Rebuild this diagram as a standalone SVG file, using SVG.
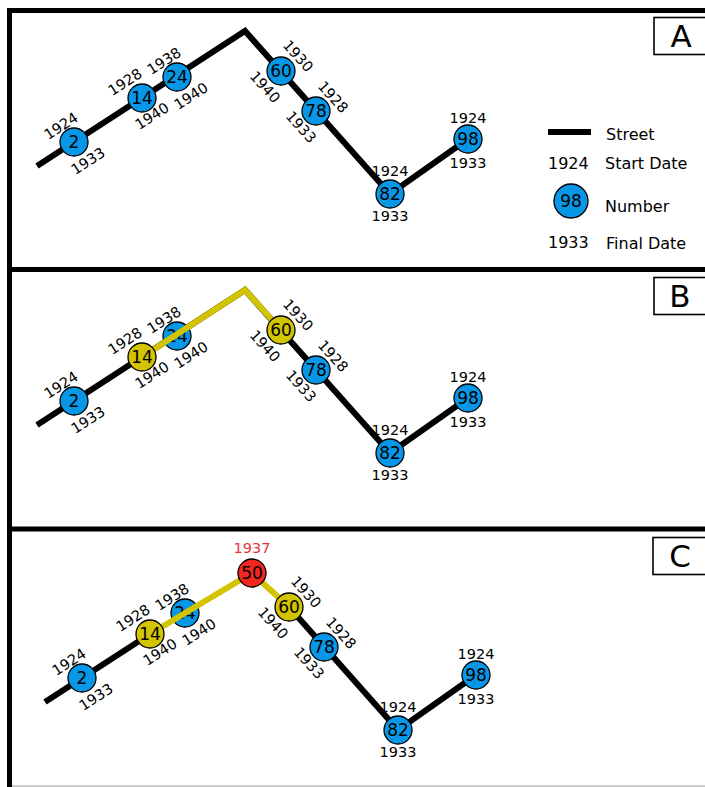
<svg xmlns="http://www.w3.org/2000/svg" width="705" height="787" viewBox="0 0 705 787">
  <style>
    text { font-family: "DejaVu Sans", "Liberation Sans", sans-serif; fill: #000; }
    .street { fill: none; stroke: #000; stroke-width: 6; stroke-linejoin: miter; }
    .changed { fill: none; stroke: #d2c400; stroke-width: 6; stroke-linejoin: miter; }
    .node circle { stroke: #000; stroke-width: 1.3; }
    .blue { fill: #0797e6; }
    .yellow { fill: #d2c400; }
    .red { fill: #f2271f; }
    .num { font-size: 17px; text-anchor: middle; }
    .date { font-size: 14.5px; text-anchor: middle; }
    .leg { font-size: 16px; }
    .tag { fill: #fff; stroke: #000; stroke-width: 1.6; }
    .tagtxt { font-size: 31px; text-anchor: middle; }
    .frame { stroke: #000; stroke-width: 5; }
  </style>
  <defs>
    <!-- date labels shared by the three panels (coordinates of the top panel) -->
    <g id="dates">
      <text class="date" transform="translate(61,126) rotate(-33)" y="5">1924</text>
      <text class="date" transform="translate(88,161) rotate(-33)" y="5">1933</text>
      <text class="date" transform="translate(125,82) rotate(-33)" y="5">1928</text>
      <text class="date" transform="translate(152,116) rotate(-33)" y="5">1940</text>
      <text class="date" transform="translate(164,61) rotate(-33)" y="5">1938</text>
      <text class="date" transform="translate(191,96) rotate(-33)" y="5">1940</text>
      <text class="date" transform="translate(298,56) rotate(48)" y="5">1930</text>
      <text class="date" transform="translate(265,87) rotate(48)" y="5">1940</text>
      <text class="date" transform="translate(333,97) rotate(48)" y="5">1928</text>
      <text class="date" transform="translate(301,127) rotate(48)" y="5">1933</text>
      <text class="date" x="390" y="176">1924</text>
      <text class="date" x="390" y="221">1933</text>
      <text class="date" x="468" y="123">1924</text>
      <text class="date" x="468" y="168">1933</text>
    </g>
  </defs>

  <!-- frame -->
  <g id="frame">
    <line class="frame" x1="9.5" y1="8" x2="9.5" y2="787"/>
    <line class="frame" x1="7" y1="10.5" x2="705" y2="10.5"/>
    <line class="frame" x1="7" y1="269.5" x2="705" y2="269.5"/>
    <line class="frame" x1="7" y1="529" x2="705" y2="529"/>
    <line x1="12" y1="786" x2="705" y2="786" stroke="#999" stroke-width="1.2"/>
  </g>

  <!-- Panel A -->
  <g id="panel-a">
    <g id="connectors-a">
      <path class="street" d="M37,166 L245,31 L390,194 L468,139"/>
    </g>
    <g id="a-n2" class="node"><circle class="blue" cx="74" cy="142" r="14"/><text class="num" x="74" y="148">2</text></g>
    <g id="a-n14" class="node"><circle class="blue" cx="142" cy="98" r="14"/><text class="num" x="142" y="104">14</text></g>
    <g id="a-n24" class="node"><circle class="blue" cx="177" cy="77" r="14"/><text class="num" x="177" y="83">24</text></g>
    <g id="a-n60" class="node"><circle class="blue" cx="281" cy="71" r="14"/><text class="num" x="281" y="77">60</text></g>
    <g id="a-n78" class="node"><circle class="blue" cx="316" cy="111" r="14"/><text class="num" x="316" y="117">78</text></g>
    <g id="a-n82" class="node"><circle class="blue" cx="390" cy="194" r="14"/><text class="num" x="390" y="200">82</text></g>
    <g id="a-n98" class="node"><circle class="blue" cx="468" cy="139" r="14"/><text class="num" x="468" y="145">98</text></g>
    <use href="#dates"/>
    <g id="a-tag"><rect class="tag" x="654" y="17.5" width="60" height="37"/><text class="tagtxt" x="681" y="47">A</text></g>
    <g id="legend">
      <line x1="548" y1="132" x2="591" y2="132" stroke="#000" stroke-width="6"/>
      <text class="leg" x="606" y="140">Street</text>
      <text class="leg" x="548" y="169">1924</text>
      <text class="leg" x="605" y="169">Start Date</text>
      <g class="node"><circle class="blue" cx="571" cy="201" r="17"/><text class="num" x="571" y="207">98</text></g>
      <text class="leg" x="605" y="212">Number</text>
      <text class="leg" x="548" y="248">1933</text>
      <text class="leg" x="606" y="249">Final Date</text>
    </g>
  </g>

  <!-- Panel B -->
  <g id="panel-b" transform="translate(0,259)">
    <g id="connectors-b">
      <path class="street" d="M37,166 L245,31 L390,194 L468,139"/>
    </g>
    <g id="b-n24" class="node"><circle class="blue" cx="177" cy="77" r="14"/><text class="num" x="177" y="83">24</text></g>
    <path class="changed" d="M142,98 L245,31 L281,71"/>
    <g id="b-n2" class="node"><circle class="blue" cx="74" cy="142" r="14"/><text class="num" x="74" y="148">2</text></g>
    <g id="b-n14" class="node"><circle class="yellow" cx="142" cy="98" r="14"/><text class="num" x="142" y="104">14</text></g>
    <g id="b-n60" class="node"><circle class="yellow" cx="281" cy="71" r="14"/><text class="num" x="281" y="77">60</text></g>
    <g id="b-n78" class="node"><circle class="blue" cx="316" cy="111" r="14"/><text class="num" x="316" y="117">78</text></g>
    <g id="b-n82" class="node"><circle class="blue" cx="390" cy="194" r="14"/><text class="num" x="390" y="200">82</text></g>
    <g id="b-n98" class="node"><circle class="blue" cx="468" cy="139" r="14"/><text class="num" x="468" y="145">98</text></g>
    <use href="#dates"/>
    <g id="b-tag"><rect class="tag" x="654" y="18.5" width="60" height="37"/><text class="tagtxt" x="680" y="48">B</text></g>
  </g>

  <!-- Panel C -->
  <g id="panel-c" transform="translate(8,536)">
    <g id="connectors-c">
      <path class="street" d="M37,166 L142,98"/>
      <path class="street" d="M281,71 L390,194 L468,139"/>
    </g>
    <g id="c-n24" class="node"><circle class="blue" cx="177" cy="77" r="14"/><text class="num" x="177" y="83">24</text></g>
    <path class="changed" d="M142,98 L244,37 L281,71"/>
    <g id="c-n2" class="node"><circle class="blue" cx="74" cy="142" r="14"/><text class="num" x="74" y="148">2</text></g>
    <g id="c-n14" class="node"><circle class="yellow" cx="142" cy="98" r="14"/><text class="num" x="142" y="104">14</text></g>
    <g id="c-n50" class="node"><circle class="red" cx="244" cy="37" r="14"/><text class="num" x="244" y="43">50</text></g>
    <text class="date" x="244" y="17" style="fill:#e8323a">1937</text>
    <g id="c-n60" class="node"><circle class="yellow" cx="281" cy="71" r="14"/><text class="num" x="281" y="77">60</text></g>
    <g id="c-n78" class="node"><circle class="blue" cx="316" cy="111" r="14"/><text class="num" x="316" y="117">78</text></g>
    <g id="c-n82" class="node"><circle class="blue" cx="390" cy="194" r="14"/><text class="num" x="390" y="200">82</text></g>
    <g id="c-n98" class="node"><circle class="blue" cx="468" cy="139" r="14"/><text class="num" x="468" y="145">98</text></g>
    <use href="#dates"/>
    <g id="c-tag"><rect class="tag" x="645" y="1.5" width="70" height="37"/><text class="tagtxt" x="672" y="31">C</text></g>
  </g>
</svg>
